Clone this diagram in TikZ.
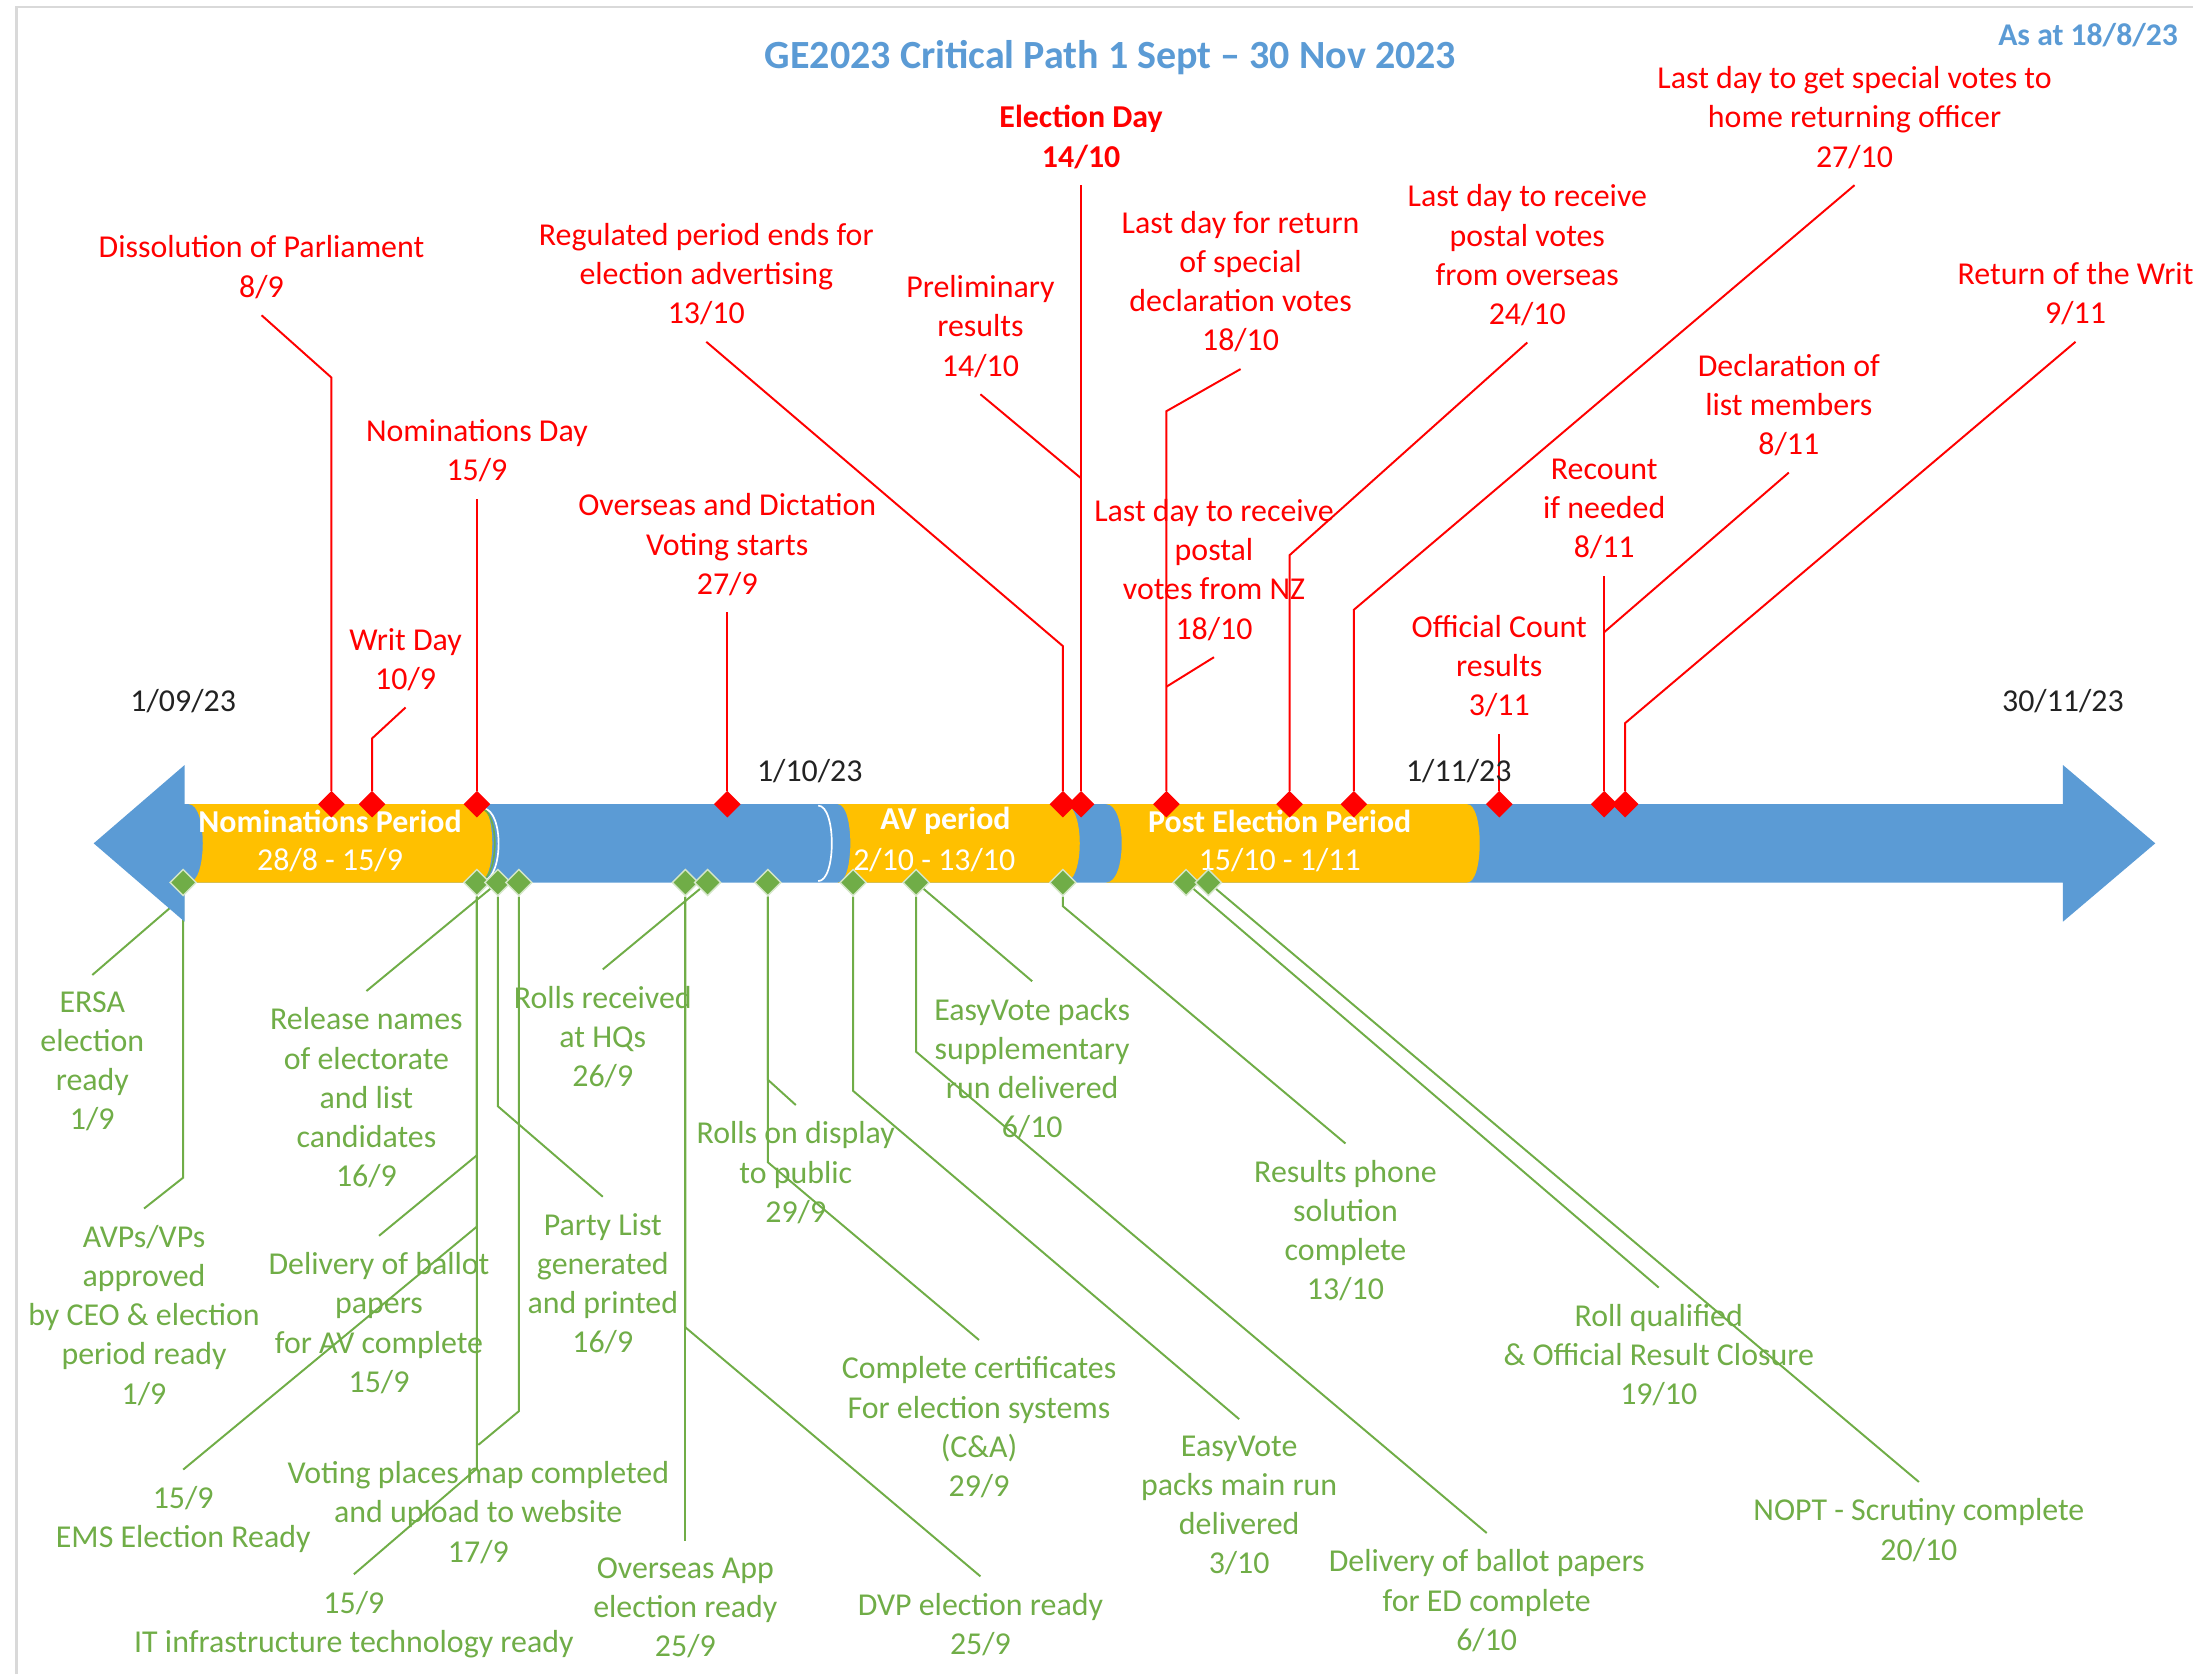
\documentclass[tikz,border=0pt]{standalone}
\usepackage{fontspec}
\setmainfont{Carlito}
\usetikzlibrary{shapes.geometric}
\definecolor{bandblue}{HTML}{5B9BD5}
\definecolor{segorange}{HTML}{FFC000}
\definecolor{grn}{HTML}{70AD47}
\definecolor{titleblue}{HTML}{5B9BD5}
\definecolor{rd}{HTML}{FF0000}
\definecolor{dategray}{HTML}{222222}
\pgfdeclarelayer{bg}
\pgfsetlayers{bg,main}
\newcommand\lbfont{\fontsize{11.4}{14}\selectfont}
\begin{document}
\begin{tikzpicture}[x=0.5pt,y=-0.5pt,
  lbl/.style={align=center, font=\lbfont, inner sep=0pt, outer ysep=6pt},
  rlbl/.style={lbl, text=rd},
  glbl/.style={lbl, text=grn},
  datelbl/.style={font=\lbfont, text=dategray, inner sep=0pt},
  seglbl/.style={font=\lbfont, text=white, inner sep=0pt},
  rline/.style={draw=rd, line width=0.7pt},
  gline/.style={draw=grn, line width=0.7pt},
  rdia/.style={diamond, fill=rd, inner sep=0pt, minimum width=9.5pt, minimum height=9.5pt, outer sep=0pt},
  gdia/.style={diamond, fill=grn, draw=white!70!grn, line width=0.5pt, inner sep=0pt, minimum width=9.5pt, minimum height=9.5pt}]
\useasboundingbox (0,0) rectangle (1568,1197);
\draw[gray!30, line width=1pt] (12,1197) -- (12,5) -- (1568,5);

% title
\node[font=\bfseries\fontsize{14.3}{17}\selectfont, text=titleblue, inner sep=0pt] (title) at (794,41) {GE2023 Critical Path 1 Sept -- 30 Nov 2023};
\node[font=\bfseries\fontsize{11.3}{14}\selectfont, text=titleblue, inner sep=0pt] (asat) at (1493,25) {As at 18/8/23};

% dates
\node[datelbl] (d1) at (131,501) {1/09/23};
\node[datelbl] (d2) at (579,551) {1/10/23};
\node[datelbl] (d3) at (1043,551) {1/11/23};
\node[datelbl] (d4) at (1475,501) {30/11/23};

% segment labels
\node[seglbl, font=\lbfont\bfseries] (s1a) at (236,587) {Nominations Period};
\node[seglbl] (s1b) at (236,615) {28/8 - 15/9};
\node[seglbl, font=\lbfont\bfseries] (s2a) at (676,587) {AV period};
\node[seglbl] (s2b) at (668,615) {2/10 - 13/10};
\node[seglbl, font=\lbfont\bfseries] (s3a) at (915,587) {Post Election Period};
\node[seglbl] (s3b) at (915,615) {15/10 - 1/11};

% red diamonds
\foreach \n/\x in {A/237,B/266,C/341,D/520,E/760,F/773,G/834,H/922,I/968,J/1072,K/1147,L/1162}
  \node[rdia] (rd\n) at (\x,575) {};
% green diamonds
\foreach \n/\x in {A/131,B/341,C/356,D/371,E/490,F/506,G/549,H/610,I/655,J/760,K/848,L/864}
  \node[gdia] (gd\n) at (\x,631) {};

% red labels
\node[rlbl] (r1) at (187,191) {Dissolution of Parliament\\8/9};
\node[rlbl] (r2) at (290,471.5) {Writ Day\\10/9};
\node[rlbl] (r3) at (341,322.5) {Nominations Day\\15/9};
\node[rlbl] (r4) at (520,389.5) {Overseas and Dictation\\Voting starts\\27/9};
\node[rlbl] (r5) at (505,196) {Regulated period ends for\\election advertising\\13/10};
\node[rlbl, font=\lbfont\bfseries] (r6) at (773,98) {Election Day\\14/10};
\node[rlbl] (r7) at (701,233.5) {Preliminary\\results\\14/10};
\node[rlbl] (r8) at (887,201.5) {Last day for return\\of special\\declaration votes\\18/10};
\node[rlbl] (r9) at (868,407.5) {Last day to receive\\postal\\votes from NZ\\18/10};
\node[rlbl] (r10) at (1092,182.5) {Last day to receive\\postal votes\\from overseas\\24/10};
\node[rlbl] (r11) at (1326,84) {Last day to get special votes to\\home returning officer\\27/10};
\node[rlbl] (r12) at (1072,476.5) {Official Count\\results\\3/11};
\node[rlbl] (r13) at (1147,364) {Recount\\if needed\\8/11};
\node[rlbl] (r14) at (1279,289.5) {Declaration of\\list members\\8/11};
\node[rlbl] (r15) at (1484,210) {Return of the Writ\\9/11};

% green labels
\node[glbl] (g1) at (66,759) {ERSA\\election\\ready\\1/9};
\node[glbl] (g2) at (103,940.5) {AVPs/VPs\\approved\\by CEO \& election\\period ready\\1/9};
\node[glbl] (g3) at (131,1086.5) {15/9\\EMS Election Ready};
\node[glbl] (g4) at (262,785) {Release names\\of electorate\\and list\\candidates\\16/9};
\node[glbl] (g5) at (271,946) {Delivery of ballot\\papers\\for AV complete\\15/9};
\node[glbl] (g6) at (431,918) {Party List\\generated\\and printed\\16/9};
\node[glbl] (g7) at (253,1161.5) {15/9\\IT infrastructure technology ready};
\node[glbl] (g8) at (342,1081.5) {Voting places map completed\\and upload to website\\17/9};
\node[glbl] (g9) at (431,741.5) {Rolls received\\at HQs\\26/9};
\node[glbl] (g10) at (490,1149.5) {Overseas App\\election ready\\25/9};
\node[glbl] (g11) at (701,1161.5) {DVP election ready\\25/9};
\node[glbl] (g12) at (569,838.5) {Rolls on display\\to public\\29/9};
\node[glbl] (g13) at (700,1020.5) {Complete certificates\\For election systems\\(C\&A)\\29/9};
\node[glbl] (g14) at (738,764) {EasyVote packs\\supplementary\\run delivered\\6/10};
\node[glbl] (g15) at (886,1076.5) {EasyVote\\packs main run\\delivered\\3/10};
\node[glbl] (g16) at (1063,1144.5) {Delivery of ballot papers\\for ED complete\\6/10};
\node[glbl] (g17) at (962,880) {Results phone\\solution\\complete\\13/10};
\node[glbl] (g18) at (1186,969) {Roll qualified\\\& Official Result Closure\\19/10};
\node[glbl] (g19) at (1372,1094) {NOPT - Scrutiny complete\\20/10};

% junction coordinates
\coordinate (j7) at (773,342);
\coordinate (j9) at (834,491);
\coordinate (j14) at (1147,452);

\begin{pgfonlayer}{bg}
% red connectors
\draw[rline] (r1.south) -- (237,270) -- (rdA);
\draw[rline] (r2.south) -- (266,528) -- (rdB);
\draw[rline] (r3.south) -- (rdC);
\draw[rline] (r4.south) -- (rdD);
\draw[rline] (r5.south) -- (760,462) -- (rdE);
\draw[rline] (r6.south) -- (rdF);
\draw[rline] (r7.south) -- (j7);
\draw[rline] (r8.south) -- (834,294) -- (rdG);
\draw[rline] (r9.south) -- (j9);
\draw[rline] (r10.south) -- (922,397) -- (rdH);
\draw[rline] (r11.south) -- (968,436) -- (rdI);
\draw[rline] (r12.south) -- (rdJ);
\draw[rline] (r13.south) -- (rdK);
\draw[rline] (r14.south) -- (j14);
\draw[rline] (r15.south) -- (1162,517) -- (rdL);
% green connectors
\draw[gline] (g1.north) -- (gdA.south);
\draw[gline] (gdA) -- (131,842) -- (g2.north);
\draw[gline] (gdB) -- (341,877) -- (g3.north);
\draw[gline] (gdC) -- (g4.north);
\draw[gline] (gdB) -- (341,826) -- (g5.north);
\draw[gline] (gdC) -- (356,791) -- (g6.north);
\draw[gline] (gdB) -- (341,1050) -- (g7.north);
\draw[gline] (gdD) -- (371,1009) -- (g8.north);
\draw[gline] (gdF) -- (g9.north);
\draw[gline] (gdE) -- (g10.north);
\draw[gline] (gdE) -- (490,949) -- (g11.north);
\draw[gline] (gdG) -- (549,772) -- (g12.north);
\draw[gline] (gdG) -- (549,831) -- (g13.north);
\draw[gline] (gdI) -- (g14.north);
\draw[gline] (gdH) -- (610,780) -- (g15.north);
\draw[gline] (gdI) -- (655,752) -- (g16.north);
\draw[gline] (gdJ) -- (760,648) -- (g17.north);
\draw[gline] (gdK) -- (g18.north);
\draw[gline] (gdL) -- (g19.north);

% band
\fill[bandblue] (67,603) -- (132,547) -- (132,575) -- (1475,575) -- (1475,547)
  -- (1541,603) -- (1475,659) -- (1475,631) -- (132,631) -- (132,659) -- cycle;
% orange segments
\fill[segorange] (135,575) -- (342,575) .. controls (355.3,575) and (355.3,631) .. (342,631)
  -- (135,631) .. controls (148.3,631) and (148.3,575) .. (135,575) -- cycle;
\fill[segorange] (599,575) -- (761,575) .. controls (775.7,575) and (775.7,631) .. (761,631)
  -- (599,631) .. controls (611,631) and (611,575) .. (599,575) -- cycle;
\fill[segorange] (791,575) -- (1049,575) .. controls (1061,575) and (1061,631) .. (1049,631)
  -- (791,631) .. controls (805.7,631) and (805.7,575) .. (791,575) -- cycle;
% outline arcs
\draw[white, line width=0.6pt] (585,576) .. controls (598,576) and (598,630) .. (585,630);
\draw[white, line width=0.6pt] (346,578) .. controls (360,580) and (360,626) .. (346,630);
\draw[grn, line width=0.6pt] (344,578) .. controls (357,580) and (357,626) .. (344,630);
\end{pgfonlayer}
\end{tikzpicture}
\end{document}
